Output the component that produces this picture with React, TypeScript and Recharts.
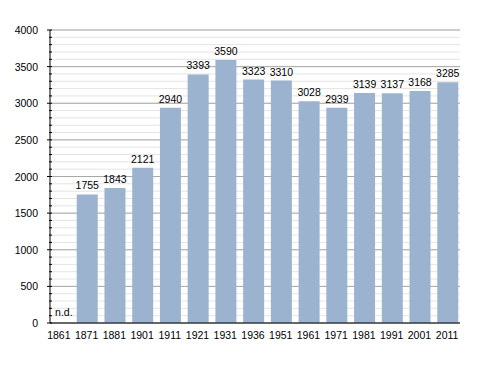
import { Bar, BarChart, CartesianGrid, LabelList, ReferenceDot, XAxis, YAxis } from "recharts";

const years = ["1861", "1871", "1881", "1901", "1911", "1921", "1931", "1936", "1951", "1961", "1971", "1981", "1991", "2001", "2011"];
const population = [null, 1755, 1843, 2121, 2940, 3393, 3590, 3323, 3310, 3028, 2939, 3139, 3137, 3168, 3285];
const majorTicks = [0, 500, 1000, 1500, 2000, 2500, 3000, 3500, 4000];
const minorTicks = Array.from({ length: 41 }, (_, i) => i * 100);

const data = years.map((year, i) => ({ year, pop: population[i] }));

const font = "'Liberation Sans', Arial, sans-serif";

function YTick(props: any) {
  const { x, y, payload } = props;
  const major = payload.value % 500 === 0;
  return (
    <g>
      <line x1={x + (major ? 5 : 7)} x2={x + 10} y1={y} y2={y} stroke="#000" strokeWidth={1} />
      {major && (
        <text x={x - 4} y={y} dy={4} textAnchor="end" fontSize={10.5} fill="#000" fontFamily={font}>
          {payload.value}
        </text>
      )}
    </g>
  );
}

export default function App() {
  return (
    <div style={{ position: "absolute", left: 0, top: 0, background: "#fff" }}>
      <BarChart
        width={488}
        height={373}
        data={data}
        margin={{ top: 30, right: 28, bottom: 30, left: 0 }}
      >
        <CartesianGrid vertical={false} horizontalValues={minorTicks} stroke="#e4e4e4" />
        <CartesianGrid vertical={false} horizontalValues={majorTicks} stroke="#a8a8a8" />
        <XAxis
          dataKey="year"
          tickLine={false}
          axisLine={{ stroke: "#000" }}
          tick={{ fontSize: 10.5, fill: "#000", fontFamily: font, dx: -1 }}
          tickMargin={3}
          interval={0}
          height={20}
          padding={{ left: -4, right: -2 }}
        />
        <YAxis
          domain={[0, 4000]}
          ticks={minorTicks}
          interval={0}
          tickLine={false}
          axisLine={{ stroke: "#000" }}
          tick={<YTick />}
          width={50}
        />
        <Bar dataKey="pop" fill="#9bb3cf" barSize={21} isAnimationActive={false}>
          <LabelList dataKey="pop" position="top" fontSize={10.5} fill="#000" fontFamily={font} />
        </Bar>
        <ReferenceDot
          x="1861"
          y={0}
          r={0}
          stroke="none"
          label={{ value: "n.d.", position: "top", offset: 7, dx: 4, fontSize: 10.5, fill: "#000", fontFamily: font }}
        />
      </BarChart>
    </div>
  );
}
